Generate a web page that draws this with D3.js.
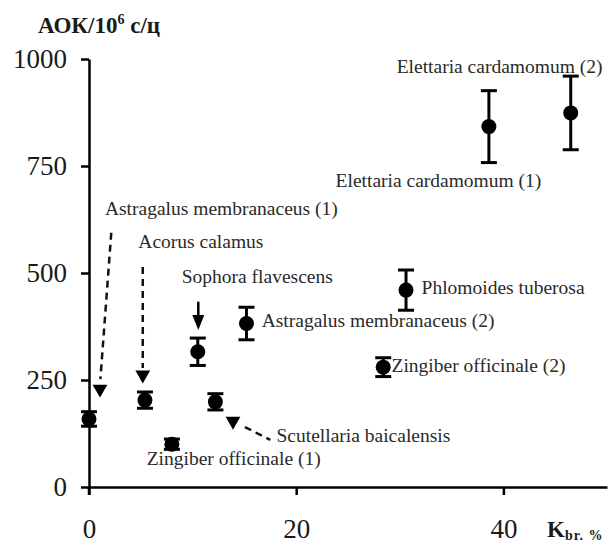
<!DOCTYPE html>
<html>
<head>
<meta charset="utf-8">
<script src="https://cdn.jsdelivr.net/npm/d3@7"></script>
<style>
	body { margin: 0; background: #fff; }
	svg text { font-family: "Liberation Serif", "Times New Roman", serif; }
	.axis path, .axis line { stroke: #000; stroke-width: 2.5px; }
	.axis text { font-size: 27px; fill: #1a1a1a; }
	.lbl { font-size: 19.5px; fill: #2a2a2a; }
</style>
</head>
<body>
<div id="chart-area"></div>
<script>
	// K_br, % vs AOK
	const kbr = [0, 5.4, 8, 10.5, 12.2, 15.2, 28.4, 30.6, 38.6, 46.5];
	const aok = [159, 203, 100, 316, 199, 382, 280, 460, 842, 874];
	const aokErr = [17, 19, 12, 32, 19, 38, 22, 47, 84, 86];

	const xTicks = [0, 20, 40];
	const yTicks = [0, 250, 500, 750, 1000];

	const labelText = [
		"Astragalus membranaceus (1)", "Acorus calamus", "Sophora flavescens",
		"Astragalus membranaceus (2)", "Phlomoides tuberosa", "Zingiber officinale (2)",
		"Elettaria cardamomum (2)", "Elettaria cardamomum (1)",
		"Scutellaria baicalensis", "Zingiber officinale (1)"
	];
	const labelX = [1.54, 4.76, 8.95, 16.67, 32.1, 29.2, 29.7, 23.8, 18.1, 5.57];
	const labelY = [636, 558, 477, 374, 451, 269, 967, 702, 106, 51];

	const margin = { left: 89, right: 7, top: 59, bottom: 56 };
	const width = 614 - margin.left - margin.right,
		height = 543 - margin.top - margin.bottom;

	var svg = d3.select("#chart-area")
		.append("svg")
		.attr("width", 614)
		.attr("height", 543);

	var g = svg.append("g")
		.attr("transform", `translate(${margin.left}, ${margin.top})`);

	var x = d3.scaleLinear()
		.domain([0, 50])
		.range([0, 518]);

	var y = d3.scaleLinear()
		.domain([0, 1000])
		.range([height, 0]);

	var xAxis = g.append("g")
		.attr("class", "x axis")
		.attr("transform", `translate(0, ${height})`)
		.call(d3.axisBottom(x).tickValues(xTicks).tickFormat(d3.format("d"))
			.tickSize(8).tickSizeOuter(0).tickPadding(24));

	var yAxis = g.append("g")
		.attr("class", "y axis")
		.call(d3.axisLeft(y).tickValues(yTicks).tickFormat(d3.format("d"))
			.tickSize(8).tickSizeOuter(0).tickPadding(14));

	svg.selectAll(".axis").attr("font-family", "Liberation Serif");

	// y axis runs down through the x axis a bit
	g.append("line")
		.attr("x1", 0).attr("x2", 0)
		.attr("y1", height).attr("y2", height + 8)
		.attr("stroke", "#000").attr("stroke-width", 2.5);

	var title = svg.append("text")
		.attr("x", 38)
		.attr("y", 33)
		.attr("font-size", "23px")
		.attr("font-weight", "bold")
		.attr("fill", "#1a1a1a");
	title.append("tspan").text("АОК/10");
	title.append("tspan").attr("font-size", "14px").attr("dy", -9).text("6");
	title.append("tspan").attr("dy", 9).text(" с/ц");

	var xLabel = svg.append("text")
		.attr("x", 547)
		.attr("y", 537)
		.attr("font-weight", "bold")
		.attr("fill", "#1a1a1a");
	xLabel.append("tspan").attr("font-size", "23px").text("K");
	xLabel.append("tspan").attr("font-size", "14px").attr("dy", 3).attr("letter-spacing", "1px").text("br. %");

	var pts = d3.range(kbr.length);

	var bars = g.selectAll(".err")
		.data(pts)
		.enter()
		.append("g")
		.attr("class", "err");

	bars.append("line")
		.attr("x1", (i) => x(kbr[i])).attr("x2", (i) => x(kbr[i]))
		.attr("y1", (i) => y(aok[i] - aokErr[i])).attr("y2", (i) => y(aok[i] + aokErr[i]))
		.attr("stroke", "#000").attr("stroke-width", 3);

	[-1, 1].forEach((s) => {
		bars.append("line")
			.attr("x1", (i) => x(kbr[i]) - 8).attr("x2", (i) => x(kbr[i]) + 8)
			.attr("y1", (i) => y(aok[i] + s * aokErr[i])).attr("y2", (i) => y(aok[i] + s * aokErr[i]))
			.attr("stroke", "#000").attr("stroke-width", 3);
	});

	g.selectAll(".point")
		.data(pts)
		.enter()
		.append("circle")
		.attr("class", "point")
		.attr("cx", (i) => x(kbr[i]))
		.attr("cy", (i) => y(aok[i]))
		.attr("r", 7.5)
		.attr("fill", "#000");

	g.selectAll(".lbl")
		.data(labelText)
		.enter()
		.append("text")
		.attr("class", "lbl")
		.attr("x", (d, i) => x(labelX[i]))
		.attr("y", (d, i) => y(labelY[i]))
		.text((d) => d);

	// pointers
	var dashed = [
		[[2.15, 594], [1.1, 252]],
		[[5.19, 514], [5.19, 278]],
		[[15.05, 140], [17.5, 110]]
	];
	dashed.forEach((p) => {
		g.append("line")
			.attr("x1", x(p[0][0])).attr("y1", y(p[0][1]))
			.attr("x2", x(p[1][0])).attr("y2", y(p[1][1]))
			.attr("stroke", "#111")
			.attr("stroke-width", 2.5)
			.attr("stroke-dasharray", "7,5");
	});

	var tri = [[1.06, 229], [5.19, 262], [13.9, 154]];
	g.selectAll(".tri")
		.data(tri)
		.enter()
		.append("path")
		.attr("class", "tri")
		.attr("d", d3.symbol().type(d3.symbolTriangle).size(95))
		.attr("transform", (d) => `translate(${x(d[0])}, ${y(d[1])}) rotate(180)`)
		.attr("fill", "#000");

	var tip = [10.55, 367];
	g.append("line")
		.attr("x1", x(tip[0])).attr("x2", x(tip[0]))
		.attr("y1", y(433)).attr("y2", y(tip[1]) - 12)
		.attr("stroke", "#000").attr("stroke-width", 2.5);
	g.append("path")
		.attr("d", `M${x(tip[0]) - 6},${y(tip[1]) - 15}L${x(tip[0]) + 6},${y(tip[1]) - 15}L${x(tip[0])},${y(tip[1])}Z`)
		.attr("fill", "#000");
</script>
</body>
</html>
